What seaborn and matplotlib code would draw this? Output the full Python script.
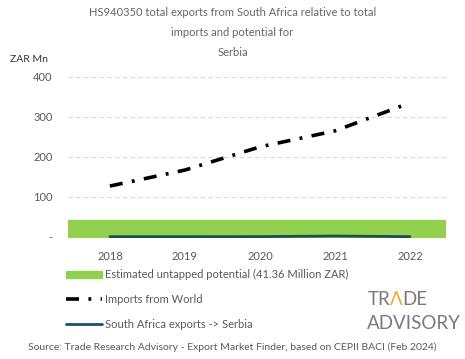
import matplotlib
matplotlib.use("Agg")
import matplotlib.pyplot as plt
import seaborn as sns
import pandas as pd
from matplotlib.patches import Patch
from matplotlib.lines import Line2D

years = ["2018", "2019", "2020", "2021", "2022"]
imports_world = [127, 167, 225, 265, 335]
sa_exports = [0.3, 0.3, 0.5, 2.0, 0.4]
untapped_potential = 41.36

sns.set_theme(style="white")
plt.rcParams['font.family'] = ['Lato', 'DejaVu Sans']
grey = "#595959"
dash_pat = [3.6, 2.6, 0.8, 2.6]

df = pd.DataFrame({"pos": range(len(years)), "year": years,
                   "world": imports_world, "sa": sa_exports})

fig = plt.figure(figsize=(4.65, 3.59), dpi=100)
ax = fig.add_axes([0.146, 0.337, 0.813, 0.471])

# untapped potential band
ax.axhspan(0, untapped_potential, color="#92d050", zorder=1)

sns.lineplot(data=df, x="pos", y="world", ax=ax, color="black",
             linewidth=2.6, zorder=3)
ax.lines[-1].set_dashes(dash_pat)
sns.lineplot(data=df, x="pos", y="sa", ax=ax, color="#1b4f4a",
             linewidth=2.0, zorder=2)

ax.set_xlim(-0.56, 4.48)
ax.set_ylim(-3, 420)
ax.set_xticks(range(len(years)))
ax.set_xticklabels(years)
ax.set_yticks([0, 100, 200, 300, 400])
ax.set_yticklabels(["-", "100", "200", "300", "400"])
ax.tick_params(axis="both", colors=grey, labelsize=8, length=0)
ax.tick_params(axis="y", pad=11)
ax.tick_params(axis="x", pad=9)
ax.set_xlabel("")
ax.set_ylabel("")
for s in ax.spines.values():
    s.set_visible(False)
ax.yaxis.grid(True, linestyle=(0, (4, 3)), color="#d9d9d9", linewidth=0.8)
ax.set_axisbelow(True)

tcol = "#666666"
fig.text(0.5, 0.965, "HS940350 total exports from South Africa relative to total",
         ha="center", va="center", fontsize=8, color=tcol)
fig.text(0.5, 0.91, "imports and potential for", ha="center", va="center",
         fontsize=8, color=tcol)
fig.text(0.5, 0.853, "Serbia", ha="center", va="center", fontsize=8, color=tcol)
fig.text(0.022, 0.835, "ZAR Mn", ha="left", va="center", fontsize=7.5, color="#333333")

handles = [Patch(color="#92d050"),
           Line2D([0], [0], color="black", linewidth=2.6, dashes=dash_pat),
           Line2D([0], [0], color="#1b4f6b", linewidth=2.0)]
labels = ["Estimated untapped potential (41.36 Million ZAR)",
          "Imports from World", "South Africa exports -> Serbia"]
leg = fig.legend(handles, labels, loc="upper left", bbox_to_anchor=(0.13, 0.265),
                 frameon=False, fontsize=8, labelspacing=1.25, handlelength=3.2,
                 handletextpad=0.3, borderpad=0)
for t in leg.get_texts():
    t.set_color(grey)

# logo
logo_col = "#7a7a7a"
fs = 13.5
fig.canvas.draw()
r = fig.canvas.get_renderer()
tr = fig.text(0.79, 0.165, "TR", ha="left", va="center", fontsize=fs,
              color=logo_col)
x1 = tr.get_window_extent(r).x1 / fig.bbox.width
lam = fig.text(x1, 0.165, "\u039b", ha="left", va="center", fontsize=fs,
               color="#f0a830")
x2 = lam.get_window_extent(r).x1 / fig.bbox.width
fig.text(x2, 0.165, "DE", ha="left", va="center", fontsize=fs,
         color=logo_col)
fig.text(0.79, 0.098, "ADVISORY", ha="left", va="center", fontsize=fs,
         color=logo_col)

fig.text(0.5, 0.033, "Source: Trade Research Advisory - Export Market Finder, based on CEPII BACI (Feb 2024)",
         ha="center", va="center", fontsize=7.5, color=grey)

fig.savefig("out.png", dpi=100)
